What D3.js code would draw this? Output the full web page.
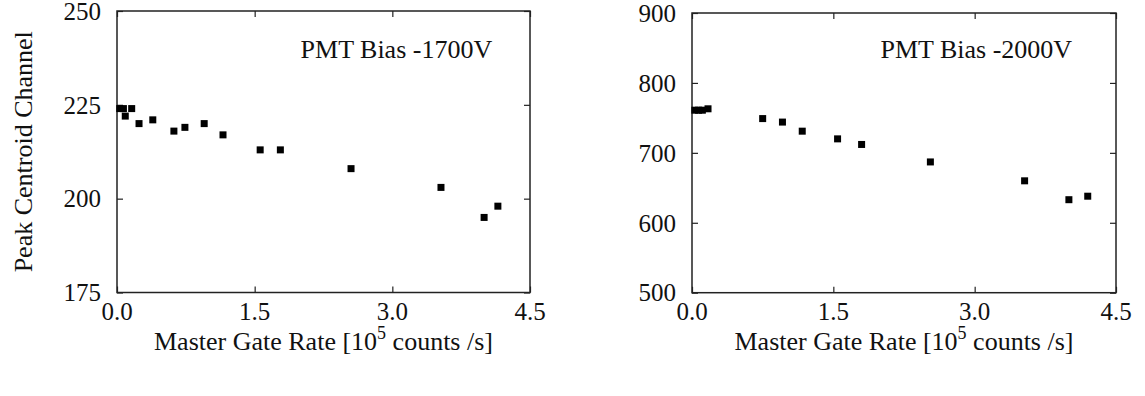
<!DOCTYPE html>
<html lang="en">
<head>
    <title>Peak Centroid vs Master Gate Rate</title>
    <script src="https://d3js.org/d3.v7.min.js"></script>
    <style>
        body { margin: 0; background: #fff; }
        text { font-family: "Liberation Serif", "Times New Roman", serif; fill: #111; }
    </style>
</head>
<body>

<script>
    // master gate rate [1e5 counts/s] and peak centroid channel
    const rate1700 = [0.03, 0.07, 0.09, 0.16, 0.24, 0.39, 0.62, 0.74, 0.95, 1.155, 1.56, 1.78, 2.55, 3.53, 4.0, 4.15];
    const peak1700 = [224, 224, 222, 224, 220, 221, 218, 219, 220, 217, 213, 213, 208, 203, 195, 198];

    const rate2000 = [0.03, 0.07, 0.11, 0.17, 0.75, 0.96, 1.17, 1.545, 1.80, 2.53, 3.53, 4.0, 4.2];
    const peak2000 = [761, 761, 761, 763, 749, 744, 731, 720, 712, 687, 660, 633, 638];

    const xTicks = [0, 1.5, 3.0, 4.5];
    const yTicks1700 = [175, 200, 225, 250];
    const yTicks2000 = [500, 600, 700, 800, 900];

    const panels = [
        {label: "PMT Bias -1700V", rate: rate1700, peak: peak1700, yTicks: yTicks1700,
         x0: 117, x1: 530, y0: 11, y1: 292.5, yLabel: true},
        {label: "PMT Bias -2000V", rate: rate2000, peak: peak2000, yTicks: yTicks2000,
         x0: 692, x1: 1116, y0: 13, y1: 292.7, yLabel: false}
    ];

    const svg = d3.select("body").append("svg")
            .attr("width", 1145).attr("height", 396);

    const tickLen = 6, sq = 7;

    panels.forEach(p => {
        const x = d3.scaleLinear().domain([0, 4.5]).range([p.x0, p.x1]);
        const y = d3.scaleLinear().domain(d3.extent(p.yTicks)).range([p.y1, p.y0]);
        const g = svg.append("g");

        // inward ticks on all four sides
        g.append("g").attr("transform", `translate(0,${p.y1})`)
            .call(d3.axisBottom(x).tickValues(xTicks).tickSize(-tickLen).tickFormat(""));
        g.append("g").attr("transform", `translate(0,${p.y0})`)
            .call(d3.axisTop(x).tickValues(xTicks).tickSize(-tickLen).tickFormat(""));
        g.append("g").attr("transform", `translate(${p.x0},0)`)
            .call(d3.axisLeft(y).tickValues(p.yTicks).tickSize(-tickLen).tickFormat(""));
        g.append("g").attr("transform", `translate(${p.x1},0)`)
            .call(d3.axisRight(y).tickValues(p.yTicks).tickSize(-tickLen).tickFormat(""));
        g.selectAll(".domain").remove();
        g.selectAll(".tick line").attr("stroke", "#222").attr("stroke-width", 1.2);

        g.append("rect")
            .attr("x", p.x0).attr("y", p.y0)
            .attr("width", p.x1 - p.x0).attr("height", p.y1 - p.y0)
            .attr("fill", "none").attr("stroke", "#222").attr("stroke-width", 1.5);

        // tick labels
        g.selectAll(".xl").data(xTicks).enter().append("text")
            .attr("x", d => x(d)).attr("y", 320)
            .attr("text-anchor", "middle").attr("font-size", 25)
            .text(d => d.toFixed(1));
        g.selectAll(".yl").data(p.yTicks).enter().append("text")
            .attr("x", p.x0 - 16).attr("y", d => y(d))
            .attr("dy", "0.35em")
            .attr("text-anchor", "end").attr("font-size", 25)
            .text(d => d);

        // points
        g.selectAll(".pt").data(p.rate).enter().append("rect")
            .attr("x", (d, i) => x(d) - sq / 2)
            .attr("y", (d, i) => y(p.peak[i]) - sq / 2)
            .attr("width", sq).attr("height", sq)
            .attr("fill", "#000");

        g.append("text")
            .attr("x", x(2.0)).attr("y", 58)
            .attr("font-size", 26)
            .text(p.label);

        const xl = g.append("text")
            .attr("x", (p.x0 + p.x1) / 2).attr("y", 350)
            .attr("text-anchor", "middle").attr("font-size", 26);
        xl.append("tspan").text("Master Gate Rate [10");
        xl.append("tspan").attr("dy", -11).attr("font-size", 18).text("5");
        xl.append("tspan").attr("dy", 11).text(" counts /s]");

        if (p.yLabel) {
            g.append("text")
                .attr("transform", `translate(32,${(p.y0 + p.y1) / 2}) rotate(-90)`)
                .attr("text-anchor", "middle").attr("font-size", 26)
                .text("Peak Centroid Channel");
        }
    });
</script>

</body>
</html>
